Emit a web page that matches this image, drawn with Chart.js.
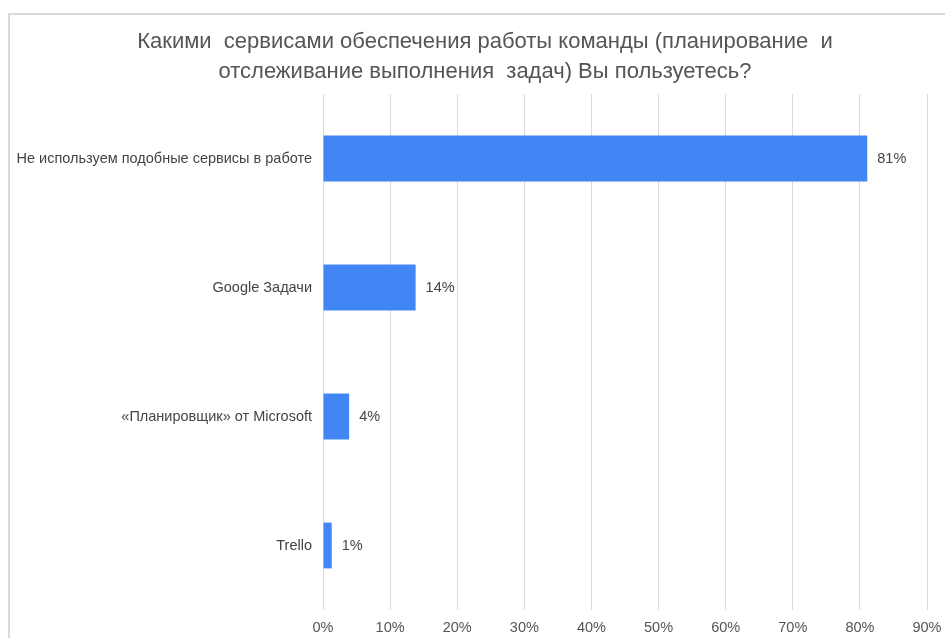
<!DOCTYPE html>
<html>
<head>
<meta charset="utf-8">
<script src="https://cdn.jsdelivr.net/npm/chart.js@4"></script>
<style>
  html, body { margin: 0; padding: 0; background: #fff; }
  #wrap { position: relative; width: 945px; height: 638px; }
  #frame {
    position: absolute; left: 8px; top: 13px; right: -2px; bottom: -2px;
    border-left: 2px solid #dadada; border-top: 2px solid #dadada;
  }
  canvas { position: absolute; left: 0; top: 0; }
</style>
</head>
<body>
<div id="wrap">
  <div id="frame"></div>
  <canvas id="chart" width="945" height="638"></canvas>
</div>
<script>
// Данные опроса
const categories = [
  'Не используем подобные сервисы в работе',
  'Google Задачи',
  '«Планировщик» от Microsoft',
  'Trello',
];
const shares = [81.1, 13.8, 3.9, 1.3];
const titleLines = [
  'Какими  сервисами обеспечения работы команды (планирование  и',
  'отслеживание выполнения  задач) Вы пользуетесь?',
];
const xMax = 90;
const xStep = 10;

const FONT = "'Liberation Sans', Arial, sans-serif";
const BAR = '#4285f4';
const GRID = '#d9d9d9';

// заголовок рисуем сами: в оригинале он смещён правее центра холста
const chartTitle = {
  id: 'chartTitle',
  afterDraw(chart) {
    const { ctx } = chart;
    ctx.save();
    ctx.font = `22px ${FONT}`;
    ctx.fillStyle = '#555';
    ctx.textAlign = 'center';
    ctx.textBaseline = 'middle';
    titleLines.forEach((line, i) => ctx.fillText(line, 485, 42 + i * 30));
    ctx.restore();
  },
};

// подписи значений справа от столбцов
const valueLabels = {
  id: 'valueLabels',
  afterDatasetsDraw(chart) {
    const { ctx } = chart;
    const meta = chart.getDatasetMeta(0);
    ctx.save();
    ctx.font = `14.5px ${FONT}`;
    ctx.fillStyle = '#444';
    ctx.textAlign = 'left';
    ctx.textBaseline = 'middle';
    meta.data.forEach((bar, i) => {
      ctx.fillText(Math.round(shares[i]) + '%', bar.x + 10, bar.y);
    });
    ctx.restore();
  },
};

new Chart(document.getElementById('chart'), {
  type: 'bar',
  data: {
    labels: categories,
    datasets: [{
      data: shares,
      backgroundColor: BAR,
      borderWidth: 0,
      barPercentage: 0.355,
      categoryPercentage: 1,
    }],
  },
  options: {
    indexAxis: 'y',
    responsive: false,
    animation: false,
    layout: { padding: { left: 0, right: 18, top: 94, bottom: 0 } },
    scales: {
      x: {
        min: 0,
        max: xMax,
        grid: { color: GRID, drawTicks: false },
        border: { display: false },
        ticks: {
          stepSize: xStep,
          padding: 9.5,
          color: '#555',
          font: { family: FONT, size: 14.5 },
          callback: v => v + '%',
        },
        afterFit: s => {
          s.height = 28;
          s.paddingLeft = 0;
          s.paddingRight = 0;
        },
      },
      y: {
        grid: { display: false, drawTicks: false },
        border: { display: false },
        ticks: {
          padding: 11,
          color: '#444',
          font: { family: FONT, size: 14.5 },
        },
        afterFit: s => { s.width = 323; },
      },
    },
    plugins: {
      legend: { display: false },
      tooltip: { enabled: false },
      title: { display: false },
    },
  },
  plugins: [valueLabels, chartTitle],
});
</script>
</body>
</html>
